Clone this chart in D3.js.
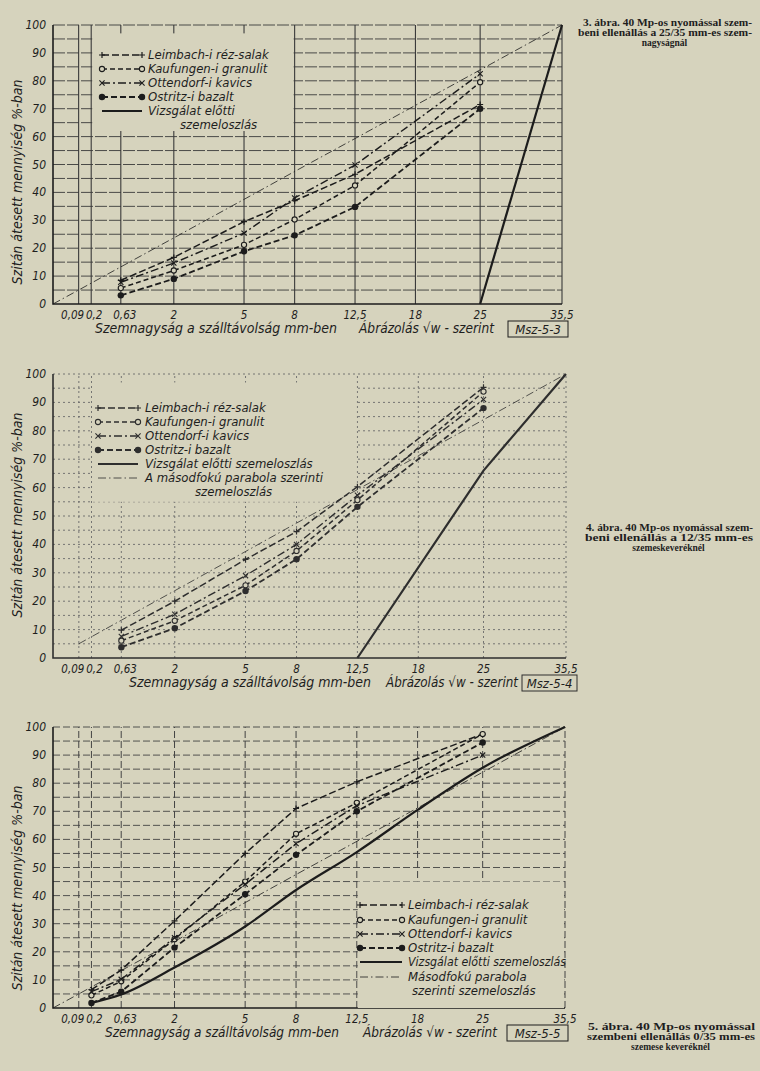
<!DOCTYPE html>
<head>
  <meta charset="utf-8">
  <script src="https://d3js.org/d3.v7.min.js"></script>
  <style>
    body { margin: 0; background: #d6d3bd; }
    text { font-family: "DejaVu Sans", sans-serif; font-stretch: condensed; font-style: italic; fill: #1e1e1e; }
    .cap { font-family: "Liberation Serif", serif; font-stretch: normal; font-style: normal; font-weight: bold; }
  </style>
</head>
<body>
<script>
  var width = 760, height = 1071;
  var bg = "#d6d3bd";

  // sieve sizes on the x axis (sqrt scale, "Vw szerint")
  var sieves = [0.09, 0.2, 0.63, 2, 5, 8, 12.5, 18, 25, 35.5];
  var sieveLabels = ["0,09", "0,2", "0,63", "2", "5", "8", "12,5", "18", "25", "35,5"];
  var yTicks = [0, 10, 20, 30, 40, 50, 60, 70, 80, 90, 100];
  var gridY = [5, 10, 15, 20, 25, 30, 35, 40, 45, 50, 55, 60, 65, 70, 75, 80, 85, 90, 95, 100];

  // second order parabola (Fuller) grading
  var parabolaSizes = [0, 0.09, 0.63, 2, 5, 8, 12.5, 18, 25, 35.5];
  var parabola = [0, 5, 13.3, 23.7, 37.5, 47.5, 59.3, 71.2, 83.9, 100];

  // 3. abra - 25/35 mm
  var p1Sizes = [0.63, 2, 5, 8, 12.5, 25];
  var p1Leimbach = [8.5, 16.7, 29.5, 37, 46.5, 71.5];
  var p1Kaufungen = [5.7, 12, 21.2, 30.3, 42.5, 79.5];
  var p1Ottendorf = [7.8, 14.7, 25.4, 38, 49.8, 82.5];
  var p1Ostritz = [3.1, 9, 18.9, 24.6, 34.8, 70];
  var p1BeforeSizes = [25, 35.5];
  var p1Before = [0, 100];

  // 4. abra - 12/35 mm
  var p2Sizes = [0.63, 2, 5, 8, 12.5, 25];
  var p2Leimbach = [9.8, 20, 34.7, 44.5, 60.3, 95.3];
  var p2Kaufungen = [6.1, 13.1, 25.6, 37.7, 55.6, 93.8];
  var p2Ottendorf = [7.6, 15.4, 29, 40, 57.3, 91];
  var p2Ostritz = [3.8, 10.5, 23.6, 34.8, 53.2, 88];
  var p2BeforeSizes = [12.5, 25, 35.5];
  var p2Before = [0, 66, 100];

  // 5. abra - 0/35 mm
  var p3Sizes = [0.2, 0.63, 2, 5, 8, 12.5, 25];
  var p3Leimbach = [6.5, 13.5, 31, 55, 71, 80.5, 97.5];
  var p3Kaufungen = [4.5, 9.5, 24.5, 45, 62, 73, 97.5];
  var p3Ottendorf = [5.8, 10.2, 25, 44, 58.5, 72, 90];
  var p3Ostritz = [1.8, 5.8, 21.5, 40.5, 54.5, 70, 94.5];
  var p3BeforeSizes = [0.2, 0.63, 2, 5, 8, 12.5, 18, 25, 35.5];
  var p3Before = [1.8, 4.8, 14.4, 29, 42, 55.5, 70.5, 85.5, 100];

  var names = ["Leimbach-i réz-salak", "Kaufungen-i granulit", "Ottendorf-i kavics", "Ostritz-i bazalt"];

  var styles = [
    {dash: "7,3", w: 1.5, marker: "plus"},
    {dash: "5,3", w: 1.5, marker: "circle"},
    {dash: "8,3,2,3", w: 1.4, marker: "cross"},
    {dash: "6,3", w: 1.8, marker: "dot"}
  ];

  var svg = d3.select("body").append("svg")
      .attr("width", width)
      .attr("height", height);
  svg.append("rect").attr("width", width).attr("height", height).attr("fill", bg);

  function marker(g, type, x, y, col) {
    if (type == "plus") {
      g.append("path").attr("d", "M" + (x-3) + "," + y + "h6M" + x + "," + (y-3) + "v6")
        .attr("stroke", col).attr("stroke-width", 1.2);
    } else if (type == "cross") {
      g.append("path").attr("d", "M" + (x-2.6) + "," + (y-2.6) + "l5.2,5.2M" + (x-2.6) + "," + (y+2.6) + "l5.2,-5.2")
        .attr("stroke", col).attr("stroke-width", 1.1);
    } else if (type == "circle") {
      g.append("circle").attr("cx", x).attr("cy", y).attr("r", 2.6)
        .attr("fill", bg).attr("stroke", col).attr("stroke-width", 1.1);
    } else {
      g.append("circle").attr("cx", x).attr("cy", y).attr("r", 3.2).attr("fill", col);
    }
  }

  function drawPanel(p) {
    var g = svg.append("g");
    var x = d3.scaleSqrt().domain([0, 35.5]).range([p.left, p.right]);
    var y = d3.scaleLinear().domain([0, 100]).range([p.bottom, p.top]);
    var col = p.ink;

    // grid
    g.selectAll(".gy").data(gridY).enter().append("line")
      .attr("x1", p.left).attr("x2", p.right)
      .attr("y1", function(d) { return y(d); }).attr("y2", function(d) { return y(d); })
      .attr("stroke", p.gridCol).attr("stroke-width", 0.9)
      .attr("stroke-dasharray", p.hDash);
    g.selectAll(".gx").data(sieves).enter().append("line")
      .attr("x1", function(d) { return x(d); }).attr("x2", function(d) { return x(d); })
      .attr("y1", y(0)).attr("y2", y(100))
      .attr("stroke", p.gridCol).attr("stroke-width", p.vW)
      .attr("stroke-dasharray", p.vDash);

    // axes
    g.append("path").attr("d", "M" + p.left + "," + y(100) + "V" + y(0) + "H" + p.right)
      .attr("fill", "none").attr("stroke", col).attr("stroke-width", 1.6);

    g.selectAll(".yl").data(yTicks).enter().append("text")
      .attr("x", p.left - 7).attr("y", function(d) { return y(d) + 4; })
      .attr("text-anchor", "end").attr("font-size", 12).attr("fill", col)
      .text(function(d) { return d; });
    var tdx = [-6, 3, 4, 0, 0, 0, 0, 0, 0, 0];
    g.selectAll(".xl").data(sieves).enter().append("text")
      .attr("x", function(d, i) { return x(d) + tdx[i]; }).attr("y", p.bottom + 15)
      .attr("text-anchor", "middle").attr("font-size", 11.5).attr("fill", col)
      .text(function(d, i) { return sieveLabels[i]; });

    // axis titles
    g.append("text")
      .attr("transform", "translate(" + (p.left - 31) + "," + p.yTitleMid + ") rotate(-90)")
      .attr("text-anchor", "middle").attr("font-size", 14).attr("fill", col)
      .text("Szitán átesett mennyiség %-ban");
    g.append("text").attr("x", p.cap1[0]).attr("y", p.bottom + 29)
      .attr("font-size", 14).attr("fill", col)
      .attr("textLength", p.cap1[1] - p.cap1[0]).attr("lengthAdjust", "spacingAndGlyphs")
      .text("Szemnagyság a szálltávolság mm-ben");
    g.append("text").attr("x", p.cap2[0]).attr("y", p.bottom + 29)
      .attr("font-size", 14).attr("fill", col)
      .attr("textLength", p.cap2[1] - p.cap2[0]).attr("lengthAdjust", "spacingAndGlyphs")
      .text("Ábrázolás √w - szerint");
    g.append("rect").attr("x", p.cap3[0]).attr("y", p.bottom + 17)
      .attr("width", p.cap3[1] - p.cap3[0]).attr("height", 16)
      .attr("fill", "none").attr("stroke", col).attr("stroke-width", 1);
    g.append("text").attr("x", (p.cap3[0] + p.cap3[1]) / 2).attr("y", p.bottom + 30)
      .attr("text-anchor", "middle").attr("font-size", 13).attr("fill", col)
      .text(p.msz);

    // legend box hides grid
    g.append("rect")
      .attr("x", x(p.box[0]) + 1).attr("y", y(p.box[3]))
      .attr("width", x(p.box[1]) - x(p.box[0]) - 2).attr("height", y(p.box[2]) - y(p.box[3]))
      .attr("fill", bg);

    // parabola
    var line = d3.line().x(function(d) { return x(d[0]); }).y(function(d) { return y(d[1]); });
    var parPts = parabolaSizes.map(function(s, i) { return [s, parabola[i]]; })
      .filter(function(d) { return d[0] >= p.parFrom; });
    g.append("path").attr("d", line(parPts))
      .attr("fill", "none").attr("stroke", col).attr("stroke-width", 0.8)
      .attr("stroke-dasharray", "8,3,1.5,3");

    // before-test grading
    var bPts = p.beforeSizes.map(function(s, i) { return [s, p.before[i]]; });
    g.append("path").attr("d", line.curve(p.smooth ? d3.curveMonotoneX : d3.curveLinear)(bPts))
      .attr("fill", "none").attr("stroke", col).attr("stroke-width", 2.2);
    line.curve(d3.curveLinear);

    // series
    p.series.forEach(function(vals, k) {
      var st = styles[k];
      var pts = p.sizes.map(function(s, i) { return [s, vals[i]]; });
      g.append("path").attr("d", line(pts))
        .attr("fill", "none").attr("stroke", col).attr("stroke-width", st.w)
        .attr("stroke-dasharray", st.dash);
      pts.forEach(function(d) { marker(g, st.marker, x(d[0]), y(d[1]), col); });
    });

    // legend
    var lg = p.legend;
    lg.rows.forEach(function(r, i) {
      var yy = r;
      if (i < 4) {
        var st = styles[i];
        g.append("line").attr("x1", lg.x0).attr("x2", lg.x1).attr("y1", yy - 4).attr("y2", yy - 4)
          .attr("stroke", col).attr("stroke-width", st.w).attr("stroke-dasharray", st.dash);
        marker(g, st.marker, lg.x0, yy - 4, col);
        marker(g, st.marker, lg.x1, yy - 4, col);
      } else if (i == 4) {
        g.append("line").attr("x1", lg.x0).attr("x2", lg.x1).attr("y1", yy - 4).attr("y2", yy - 4)
          .attr("stroke", col).attr("stroke-width", 2.2);
      } else if (i == 5 && lg.parabola) {
        g.append("line").attr("x1", lg.x0).attr("x2", lg.x1).attr("y1", yy - 4).attr("y2", yy - 4)
          .attr("stroke", col).attr("stroke-width", 0.8).attr("stroke-dasharray", "8,3,1.5,3");
      }
    });
    lg.texts.forEach(function(t, i) {
      var tx = g.append("text").attr("x", t[1]).attr("y", lg.rows[i])
        .attr("font-size", 13).attr("fill", col).text(t[0]);
      if (t[2]) tx.attr("textLength", t[2]).attr("lengthAdjust", "spacingAndGlyphs");
    });
  }

  function caption(lines, x0, x1, y0) {
    lines.forEach(function(t, i) {
      var tx = svg.append("text").attr("class", "cap").attr("y", y0 + i * 10)
        .attr("font-size", 9.5).attr("fill", "#151515").text(t[0]);
      if (t[1]) {
        tx.attr("x", x0 + t[1]).attr("textLength", x1 - x0 - t[1]).attr("lengthAdjust", "spacingAndGlyphs");
      } else {
        tx.attr("x", (x0 + x1) / 2).attr("text-anchor", "middle");
      }
    });
  }

  drawPanel({
    top: 25, bottom: 304, left: 53, right: 562, ink: "#1c1c1c",
    gridCol: "#3a3a3a", hDash: "12,2", vDash: null, vW: 1.1,
    yTitleMid: 182, cap1: [95, 337], cap2: [359, 494], cap3: [508, 568], msz: "Msz-5-3",
    box: [0.2, 8, 62, 97], parFrom: 0,
    beforeSizes: p1BeforeSizes, before: p1Before, smooth: false,
    sizes: p1Sizes, series: [p1Leimbach, p1Kaufungen, p1Ottendorf, p1Ostritz],
    legend: {x0: 102, x1: 142, rows: [59, 73, 87, 101, 115, 129], parabola: false,
      texts: [[names[0], 148], [names[1], 148], [names[2], 148], [names[3], 148],
              ["Vizsgálat előtti", 148], ["szemeloszlás", 180]]}
  });

  drawPanel({
    top: 374, bottom: 658, left: 53, right: 566, ink: "#2e2e2e",
    gridCol: "#6a6a6a", hDash: "2,3", vDash: "2,3", vW: 0.9,
    yTitleMid: 515, cap1: [129, 371], cap2: [386, 518], cap3: [522, 577], msz: "Msz-5-4",
    box: [0.2, 12.5, 55, 97], parFrom: 0.09,
    beforeSizes: p2BeforeSizes, before: p2Before, smooth: false,
    sizes: p2Sizes, series: [p2Leimbach, p2Kaufungen, p2Ottendorf, p2Ostritz],
    legend: {x0: 98, x1: 138, rows: [412, 426, 440, 454, 468, 482, 496], parabola: true,
      texts: [[names[0], 145], [names[1], 145], [names[2], 145], [names[3], 145],
              ["Vizsgálat előtti szemeloszlás", 145], ["A másodfokú parabola szerinti", 145],
              ["szemeloszlás", 195]]}
  });

  drawPanel({
    top: 727, bottom: 1008, left: 53, right: 565, ink: "#1c1c1c",
    gridCol: "#444", hDash: "7,3", vDash: "7,3", vW: 1,
    yTitleMid: 888, cap1: [105, 339], cap2: [363, 497], cap3: [507, 568], msz: "Msz-5-5",
    box: [12.5, 35.5, 0, 45], parFrom: 0,
    beforeSizes: p3BeforeSizes, before: p3Before, smooth: true,
    sizes: p3Sizes, series: [p3Leimbach, p3Kaufungen, p3Ottendorf, p3Ostritz],
    legend: {x0: 360, x1: 402, rows: [909, 924, 938, 952, 966, 981, 995], parabola: true,
      texts: [[names[0], 408], [names[1], 408], [names[2], 408], [names[3], 408],
              ["Vizsgálat előtti szemeloszlás", 408, 158], ["Másodfokú parabola", 408],
              ["szerinti szemeloszlás", 412]]}
  });

  caption([["3. ábra. 40 Mp-os nyomással szem-", 6], ["beni ellenállás a 25/35 mm-es szem-", 1], ["nagyságnál"]], 577, 752, 26);
  caption([["4. ábra. 40 Mp-os nyomással szem-", 2], ["beni ellenállás a 12/35 mm-es", 1], ["szemeskeveréknél"]], 584, 753, 531);
  caption([["5. ábra. 40 Mp-os nyomással", 2], ["szembeni ellenállás 0/35 mm-es", 1], ["szemese keveréknél"]], 586, 755, 1030);
</script>
</body>
